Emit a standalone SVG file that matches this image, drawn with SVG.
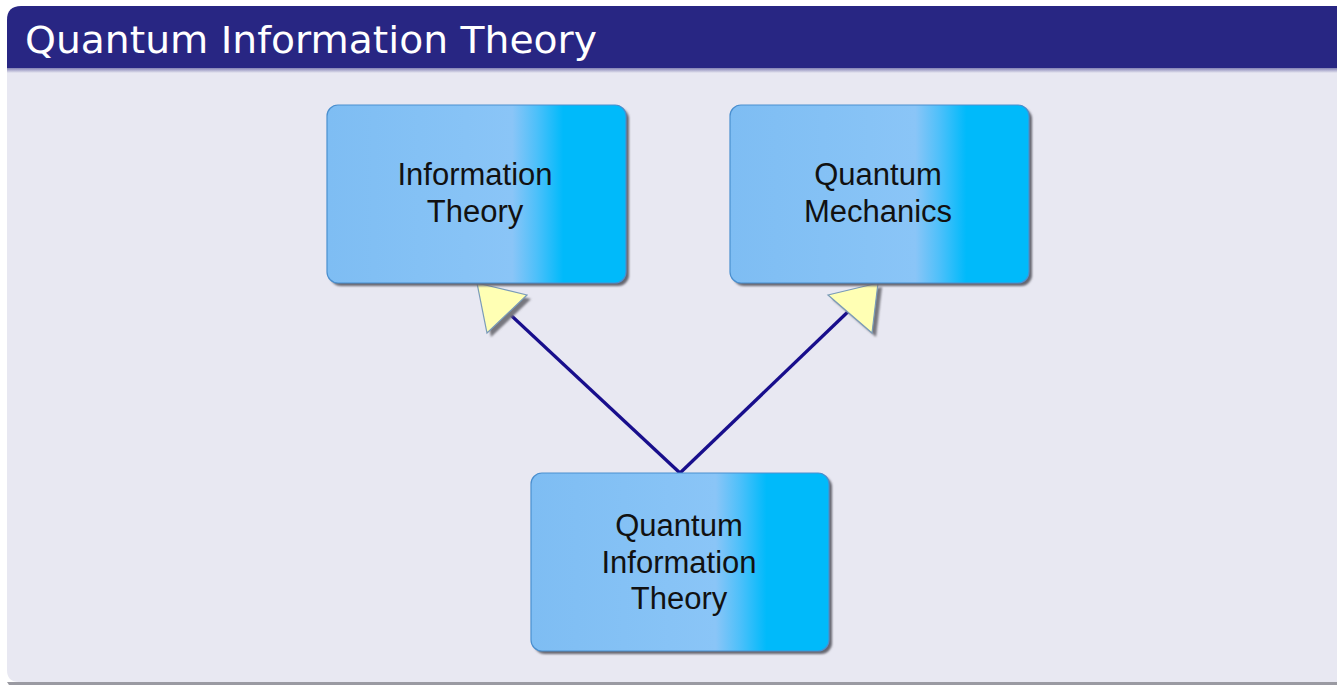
<svg xmlns="http://www.w3.org/2000/svg" width="1337" height="685" viewBox="0 0 1337 685">
<defs>
<linearGradient id="boxg" x1="0" y1="0" x2="1" y2="0">
<stop offset="0" stop-color="#7EBDF3"/>
<stop offset="0.62" stop-color="#8AC5F7"/>
<stop offset="0.7" stop-color="#4EC0FA"/>
<stop offset="0.79" stop-color="#00BAFA"/>
<stop offset="1" stop-color="#00BAFA"/>
</linearGradient>
<linearGradient id="barfade" x1="0" y1="0" x2="0" y2="1">
<stop offset="0" stop-color="#6E6DA8"/>
<stop offset="1" stop-color="#E8E8F2"/>
</linearGradient>
<filter id="sh" x="-10%" y="-10%" width="130%" height="130%">
<feGaussianBlur stdDeviation="1.2"/>
</filter>
</defs>
<style>
.bx{fill:url(#boxg);stroke:#4A8FCF;stroke-width:1.2}
.bsh{fill:#66666F;filter:url(#sh)}
.lbl{font-family:"Liberation Sans",Arial,sans-serif;font-size:31px;fill:#111111;text-anchor:middle}
.ttl{font-family:"DejaVu Sans",sans-serif;font-size:38px;fill:#FFFFFF}
.edge{stroke:#180E8C;stroke-width:3.3;fill:none}
.head{fill:#FFFFB4;stroke:#7A9BB8;stroke-width:1.2}
.hsh{fill:#77777F;filter:url(#sh)}
</style>
<rect x="0" y="0" width="1337" height="685" fill="#FFFFFF"/>
<g id="frame">
<path d="M7 682 L1337 682 L1337 685 L9 685 Z" fill="#9A9AA2"/>
<path d="M7 60 L1337 60 L1337 682 L19 682 Q7 682 7 670 Z" fill="#E8E8F2"/>
<rect x="7" y="67" width="1330" height="6" fill="url(#barfade)"/>
<path d="M7 68 L7 20 Q7 6 21 6 L1337 6 L1337 68 Z" fill="#282683"/>
<text class="ttl" x="25" y="53" textLength="572" lengthAdjust="spacingAndGlyphs">Quantum Information Theory</text>
</g>
<g id="connectors">
<line class="edge" x1="680" y1="473" x2="500" y2="305"/>
<line class="edge" x1="680" y1="473" x2="855" y2="305"/>
<polygon class="hsh" points="481,287 531,299 491,337"/>
<polygon class="head" points="477,283 527,295 487,333"/>
<polygon class="hsh" points="882,287 832,299 876,337"/>
<polygon class="head" points="878,283 828,295 872,333"/>
</g>
<g id="node-info-theory">
<rect class="bsh" x="330" y="108" width="299" height="178" rx="11"/>
<rect class="bx" x="327" y="105" width="299" height="178" rx="11"/>
<text class="lbl" x="475" y="185">Information</text>
<text class="lbl" x="475" y="222">Theory</text>
</g>
<g id="node-quantum-mechanics">
<rect class="bsh" x="733" y="108" width="299" height="178" rx="11"/>
<rect class="bx" x="730" y="105" width="299" height="178" rx="11"/>
<text class="lbl" x="878" y="185">Quantum</text>
<text class="lbl" x="878" y="222">Mechanics</text>
</g>
<g id="node-qit">
<rect class="bsh" x="534" y="476" width="298" height="178" rx="11"/>
<rect class="bx" x="531" y="473" width="298" height="178" rx="11"/>
<text class="lbl" x="679" y="536">Quantum</text>
<text class="lbl" x="679" y="573">Information</text>
<text class="lbl" x="679" y="609">Theory</text>
</g>
</svg>
